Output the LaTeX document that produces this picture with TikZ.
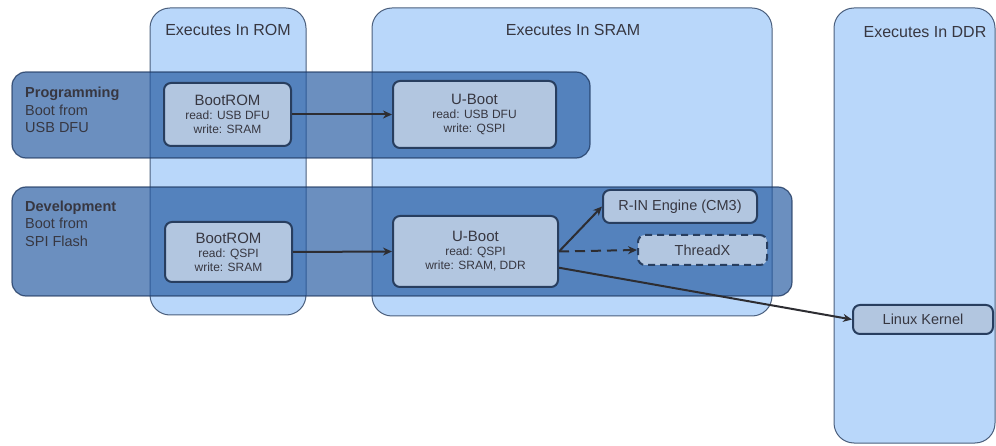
\documentclass[tikz,border=0pt]{standalone}
\usepackage{fontspec}
\setmainfont{Liberation Sans}
\usetikzlibrary{arrows.meta}
\definecolor{colfill}{RGB}{185,215,250}
\definecolor{coldraw}{RGB}{75,95,125}
\definecolor{bandfill}{RGB}{37,90,161}
\definecolor{banddraw}{RGB}{25,50,90}
\definecolor{boxfill}{RGB}{178,198,224}
\definecolor{boxdraw}{RGB}{40,62,95}
\definecolor{txt}{RGB}{55,55,65}
\definecolor{arr}{RGB}{45,45,50}
\newcommand{\bx}[3]{{\fontsize{15}{17}\selectfont #1}\\[2pt]{\fontsize{12}{14}\selectfont #2}\\[2pt]{\fontsize{12}{14}\selectfont #3}}
\begin{document}
\begin{tikzpicture}[x=1pt,y=-1pt,
  column/.style={draw=coldraw, fill=colfill, line width=1pt, rounded corners=20pt},
  band/.style={draw=banddraw, fill=bandfill, fill opacity=0.68, draw opacity=0.75, line width=1.2pt, rounded corners=14pt},
  box/.style={draw=boxdraw, fill=boxfill, line width=2pt, rounded corners=7pt, inner sep=0pt, align=center, text=txt},
  ttl/.style={text=txt, font=\fontsize{16}{19}\selectfont, inner sep=0pt},
  bandlbl/.style={text=txt, font=\fontsize{14.5}{17.5}\selectfont, align=left, inner sep=0pt, anchor=north west},
  conn/.style={draw=arr, line width=2pt, -{Stealth[length=9pt,width=8pt]}},
  big/.style={font=\fontsize{14.5}{17}\selectfont},
]
\useasboundingbox (0,0) rectangle (996,446);
% columns
\path[column] (150,8) rectangle (306,315);
\path[column] (372,8) rectangle (772,316);
\path[column] (834,8) rectangle (995,443);
\node[ttl] (trom) at (228,30) {Executes In ROM};
\node[ttl] (tsram) at (573,30) {Executes In SRAM};
\node[ttl] (tddr) at (925,32) {Executes In DDR};
% bands
\path[band] (12,72) rectangle (590,158);
\path[band] (12,187) rectangle (792,296);
\node[bandlbl] (lprog) at (25,87) {\textbf{Programming}\\Boot from\\USB DFU};
\node[bandlbl] (ldev) at (25,200.5) {\textbf{Development}\\Boot from\\SPI Flash};
% boxes
\node[box, minimum width=127pt, minimum height=63pt] (br1) at (227.5,114.5) {\bx{BootROM}{read: USB DFU}{write: SRAM}};
\node[box, minimum width=163pt, minimum height=67pt] (ub1) at (474.5,114.5) {\bx{U-Boot}{read: USB DFU}{write: QSPI}};
\node[box, minimum width=127pt, minimum height=60pt] (br2) at (228.5,252) {\bx{BootROM}{read: QSPI}{write: SRAM}};
\node[box, minimum width=165pt, minimum height=71pt] (ub2) at (475.5,251.5) {\bx{U-Boot}{read: QSPI}{write: SRAM, DDR}};
\node[box, big, minimum width=154pt, minimum height=33pt] (rin) at (680,206.5) {R-IN Engine (CM3)};
\node[box, big, dashed, dash pattern=on 7pt off 5pt, minimum width=129pt, minimum height=30pt] (tx) at (702.5,250) {ThreadX};
\node[box, big, minimum width=140pt, minimum height=29pt] (lk) at (923,319.5) {Linux Kernel};
% connectors
\draw[conn] (br1.east) -- (ub1.west);
\draw[conn] (br2.east) -- (ub2.west);
\draw[conn] (ub2.east) -- (rin.west);
\draw[conn, dashed, dash pattern=on 10pt off 6pt] (ub2.east) -- (tx.west);
\draw[conn] (ub2.-11.3) -- (lk.west);
\end{tikzpicture}
\end{document}
